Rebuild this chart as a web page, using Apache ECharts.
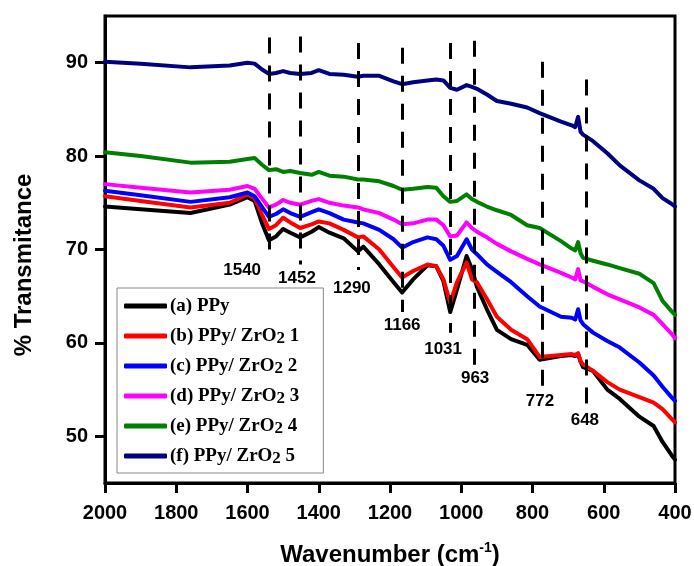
<!DOCTYPE html>
<html>
<head>
<meta charset="utf-8">
<script src="https://cdn.jsdelivr.net/npm/echarts@6/dist/echarts.min.js"></script>
<style>
html,body{margin:0;padding:0;background:#fff;}
#chart{width:694px;height:566px;}
</style>
</head>
<body>
<div id="chart"></div>
<script>
const wavenumbers = [2000, 1900, 1760, 1650, 1600, 1580, 1560, 1540, 1520, 1500, 1480, 1452, 1420, 1400, 1370, 1330, 1290, 1275, 1230, 1190, 1166, 1135, 1095, 1070, 1050, 1031, 1012, 985, 970, 956, 928, 900, 860, 815, 780, 720, 690, 680, 672, 665, 658, 630, 590, 555, 500, 460, 435, 410, 400];

const seriesNames = ['(a) PPy', '(b) PPy/ ZrO2 1', '(c) PPy/ ZrO2 2', '(d) PPy/ ZrO2 3', '(e) PPy/ ZrO2 4', '(f) PPy/ ZrO2 5'];

const ppyA = [74.6, 74.3, 73.9, 74.8, 75.6, 75.2, 72.9, 71.0, 71.4, 72.2, 71.8, 71.3, 71.9, 72.4, 71.8, 71.2, 69.8, 70.3, 68.4, 66.5, 65.4, 66.8, 68.3, 68.2, 66.6, 63.3, 65.7, 69.3, 67.9, 66.0, 63.6, 61.4, 60.4, 59.8, 58.2, 58.6, 58.7, 58.6, 58.8, 58.0, 57.4, 57.0, 55.0, 54.0, 52.1, 51.1, 49.4, 48.0, 47.5];
const zro1B = [75.7, 75.2, 74.5, 75.0, 75.9, 75.5, 73.8, 72.2, 72.6, 73.4, 72.9, 72.3, 72.7, 73.0, 72.8, 72.1, 71.3, 71.4, 70.0, 68.1, 67.0, 67.7, 68.4, 68.2, 66.8, 64.3, 66.5, 68.6, 66.8, 66.5, 64.7, 62.8, 61.4, 60.4, 58.5, 58.7, 58.8, 58.7, 58.9, 58.0, 57.7, 57.0, 55.8, 55.0, 54.2, 53.6, 52.9, 51.9, 51.5];
const zro2C = [76.3, 75.8, 75.1, 75.6, 76.1, 75.7, 74.6, 73.5, 73.8, 74.3, 73.9, 73.5, 74.0, 74.3, 73.9, 73.2, 72.9, 72.8, 72.1, 71.1, 70.2, 70.8, 71.3, 71.1, 70.4, 68.9, 69.3, 71.1, 70.0, 69.5, 68.4, 67.6, 66.5, 65.0, 63.9, 62.8, 62.7, 62.5, 63.6, 62.4, 62.0, 61.1, 60.2, 59.5, 57.9, 56.5, 55.3, 54.2, 53.8];
const zro3D = [77.0, 76.6, 76.1, 76.4, 76.8, 76.5, 75.5, 74.5, 74.8, 75.3, 75.0, 74.8, 75.2, 75.4, 75.0, 74.7, 74.5, 74.3, 73.9, 73.2, 72.7, 72.8, 73.2, 73.2, 72.6, 71.4, 71.5, 72.9, 72.3, 71.9, 71.3, 70.6, 69.8, 69.0, 68.4, 67.5, 67.0, 66.8, 67.9, 66.7, 66.6, 66.0, 65.2, 64.65, 63.8, 63.0, 62.0, 61.0, 60.5];
const zro4E = [80.4, 80.0, 79.3, 79.4, 79.7, 79.8, 79.1, 78.5, 78.6, 78.3, 78.4, 78.2, 78.0, 78.3, 77.9, 77.8, 77.5, 77.5, 77.3, 76.8, 76.4, 76.5, 76.7, 76.6, 75.7, 75.1, 75.2, 75.9, 75.4, 75.1, 74.6, 74.2, 73.7, 72.6, 72.3, 70.9, 70.1, 69.9, 70.8, 69.6, 69.1, 68.8, 68.4, 68.0, 67.4, 66.4, 64.5, 63.4, 63.0];
const zro5F = [90.1, 89.9, 89.5, 89.7, 90.0, 89.9, 89.3, 88.8, 88.9, 89.1, 88.9, 88.8, 88.9, 89.2, 88.8, 88.7, 88.5, 88.6, 88.6, 88.0, 87.7, 87.9, 88.1, 88.2, 88.1, 87.3, 87.1, 87.6, 87.4, 87.2, 86.6, 85.9, 85.6, 85.2, 84.6, 83.7, 83.3, 83.1, 84.2, 82.6, 82.3, 81.6, 80.3, 79.0, 77.4, 76.5, 75.5, 74.9, 74.6];

const seriesValues = [ppyA, zro1B, zro2C, zro3D, zro4E, zro5F];
const seriesColors = ['#000000', '#ff0000', '#0000ff', '#ff00ff', '#008000', '#000080'];

const xTicks = [2000, 1800, 1600, 1400, 1200, 1000, 800, 600, 400];
const yTicks = [50, 60, 70, 80, 90];

const peakWavenumbers = [1540, 1452, 1290, 1166, 1031, 963, 772, 648];
const peakLineTop = [92.7, 92.8, 92.1, 91.6, 92.1, 92.35, 90.1, 88.2];
const peakLineBottom = [69.1, 68.4, 67.8, 63.3, 61.1, 57.5, 55.1, 53.4];
const peakLabelX = [1615, 1461, 1307, 1166, 1051, 961, 779, 653];
const peakLabelY = [67.75, 66.9, 65.83, 61.87, 59.3, 56.2, 53.74, 51.71];

const chart = echarts.init(document.getElementById('chart'));

const lineSeries = seriesNames.map((name, k) => ({
  name: name,
  type: 'line',
  data: wavenumbers.map((w, i) => [w, seriesValues[k][i]]),
  showSymbol: false,
  symbol: 'none',
  lineStyle: { color: seriesColors[k], width: 4, join: 'round', cap: 'round' },
  itemStyle: { color: seriesColors[k] },
  z: 3,
  silent: true,
  animation: false
}));

const dashSeries = {
  name: 'peaks',
  type: 'line',
  data: [],
  symbol: 'none',
  silent: true,
  animation: false,
  z: 4,
  markLine: {
    symbol: ['none', 'none'],
    silent: true,
    animation: false,
    label: { show: false },
    lineStyle: { color: '#000', width: 3, type: [16, 12], opacity: 1 },
    data: peakWavenumbers.map((w, i) => [
      { coord: [w, peakLineTop[i]] },
      { coord: [w, peakLineBottom[i]] }
    ])
  }
};

const labelSeries = {
  name: 'peakLabels',
  type: 'scatter',
  symbolSize: 0,
  silent: true,
  animation: false,
  z: 5,
  itemStyle: { opacity: 1, color: '#000' },
  data: peakWavenumbers.map((w, i) => ({ value: [peakLabelX[i], peakLabelY[i]], name: String(w) })),
  label: {
    show: true,
    position: 'inside',
    formatter: p => p.name,
    color: '#000',
    opacity: 1,
    textBorderWidth: 0,
    fontFamily: 'Liberation Sans, Arial, sans-serif',
    fontWeight: 'bold',
    fontSize: 17
  }
};

const option = {
  animation: false,
  backgroundColor: '#fff',
  grid: {
    left: 105, right: 19, top: 16, bottom: 83,
    outerBoundsMode: 'none',
    containLabel: false,
    show: true, borderColor: '#000', borderWidth: 3, backgroundColor: 'transparent'
  },
  xAxis: {
    type: 'value',
    inverse: true,
    min: 400, max: 2000, interval: 200,
    axisLine: { show: true, lineStyle: { color: '#000', width: 3 } },
    axisTick: { show: true, inside: false, length: 10, lineStyle: { color: '#000', width: 3 } },
    splitLine: { show: false },
    axisLabel: {
      margin: 20, color: '#000', fontSize: 20, fontWeight: 'bold',
      fontFamily: 'Liberation Sans, Arial, sans-serif',
      formatter: v => String(v),
      customValues: xTicks
    },
    name: 'Wavenumber (cm{sup|-1})',
    nameLocation: 'middle',
    nameGap: 58,
    nameTextStyle: {
      color: '#000', fontSize: 24, fontWeight: 'bold',
      fontFamily: 'Liberation Sans, Arial, sans-serif',
      lineHeight: 28,
      rich: {
        sup: { fontSize: 14, fontWeight: 'bold', fontFamily: 'Liberation Sans, Arial, sans-serif', color: '#000', verticalAlign: 'top', lineHeight: 28 }
      }
    }
  },
  yAxis: {
    type: 'value',
    min: 45, max: 95,
    axisLine: { show: true, lineStyle: { color: '#000', width: 3 } },
    axisTick: { show: true, inside: false, length: 10, lineStyle: { color: '#000', width: 3 }, customValues: yTicks },
    splitLine: { show: false },
    axisLabel: {
      margin: 17, color: '#000', fontSize: 20, fontWeight: 'bold',
      fontFamily: 'Liberation Sans, Arial, sans-serif',
      customValues: yTicks
    }
  },
  legend: {
    data: seriesNames,
    orient: 'vertical',
    left: 117, top: 288,
    padding: [7, 24, 6, 7],
    itemGap: 8,
    itemWidth: 43,
    itemHeight: 5,
    icon: 'roundRect',
    borderColor: '#888',
    borderWidth: 1,
    backgroundColor: '#fff',
    selectedMode: false,
    formatter: name => name.replace('ZrO2', 'ZrO{s|2}'),
    textStyle: {
      color: '#000', fontSize: 19, fontWeight: 'bold',
      fontFamily: 'Liberation Serif, Times New Roman, serif',
      lineHeight: 22, padding: [0, 0, 0, -2],
      rich: {
        s: { fontSize: 17, fontWeight: 'bold', fontFamily: 'Liberation Serif, Times New Roman, serif', color: '#000', verticalAlign: 'bottom', lineHeight: 22 }
      }
    }
  },
  graphic: [{
    type: 'text',
    x: 24, y: 265,
    rotation: Math.PI / 2,
    style: {
      text: '% Transmitance',
      font: 'bold 24px "Liberation Sans", Arial, sans-serif',
      fill: '#000',
      align: 'center', verticalAlign: 'middle',
      textAlign: 'center', textVerticalAlign: 'middle'
    }
  }],
  series: [...lineSeries, dashSeries, labelSeries]
};

chart.setOption(option);
</script>
</body>
</html>
